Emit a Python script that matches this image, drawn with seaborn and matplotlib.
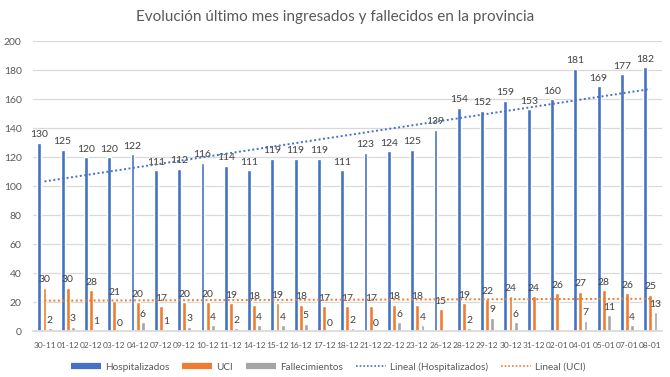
import numpy as np
import pandas as pd
import matplotlib
matplotlib.use("Agg")
import matplotlib.pyplot as plt
import seaborn as sns
from matplotlib.lines import Line2D

fechas = ["30-11", "01-12", "02-12", "03-12", "04-12", "07-12", "09-12", "10-12", "11-12",
          "14-12", "15-12", "16-12", "17-12", "18-12", "21-12", "22-12", "23-12", "26-12",
          "28-12", "29-12", "30-12", "31-12", "02-01", "04-01", "05-01", "07-01", "08-01"]
hospitalizados = [130, 125, 120, 120, 122, 111, 112, 116, 114, 111, 119, 119, 119, 111,
                  123, 124, 125, 139, 154, 152, 159, 153, 160, 181, 169, 177, 182]
uci = [30, 30, 28, 21, 20, 17, 20, 20, 19, 18, 19, 18, 17, 17,
       17, 18, 18, 15, 19, 22, 24, 24, 26, 27, 28, 26, 25]
fallecimientos = [2, 3, 1, 0, 6, 1, 3, 4, 2, 4, 4, 5, 0, 2,
                  0, 6, 4, np.nan, 2, 9, 6, np.nan, np.nan, 7, 11, 4, 13]
series = ["Hospitalizados", "UCI", "Fallecimientos"]
colores = {"Hospitalizados": "#4472C4", "UCI": "#ED7D31", "Fallecimientos": "#A5A5A5"}

df = pd.DataFrame({
    "fecha": fechas * 3,
    "serie": [s for s in series for _ in fechas],
    "valor": hospitalizados + uci + fallecimientos,
}).dropna()

sns.set_theme(style="white")
plt.rcParams["font.family"] = ["Lato", "DejaVu Sans"]
txt = "#595959"

fig = plt.figure(figsize=(6.7, 3.77), dpi=100)
ax = fig.add_axes([0.049, 0.122, 0.939, 0.769])

sns.barplot(data=df, x="fecha", y="valor", hue="serie", order=fechas, hue_order=series,
            palette=colores, width=0.66, gap=0.25, errorbar=None, legend=False,
            saturation=1, ax=ax)

for cont in ax.containers:
    ax.bar_label(cont, fmt="%g", padding=2.5, fontsize=7.5, color="#404040")

# linear trend lines
xs = np.arange(len(fechas))
ph = np.polyfit(xs, hospitalizados, 1)
pu = np.polyfit(xs, uci, 1)
ax.plot(xs, np.polyval(ph, xs), color="#4472C4", lw=1.4, ls=(0, (1, 1.3)), zorder=5)
ax.plot(xs, np.polyval(pu, xs), color="#ED7D31", lw=1.4, ls=(0, (1, 1.3)), zorder=5)

ax.set_ylim(0, 200)
ax.set_xlim(-0.5, len(fechas) - 0.5)
ax.set_yticks(range(0, 201, 20))
ax.yaxis.grid(True, color="#D9D9D9", lw=0.9)
ax.set_axisbelow(True)
for s in ["top", "right", "left"]:
    ax.spines[s].set_visible(False)
ax.spines["bottom"].set_color("#D9D9D9")
ax.set_xlabel("")
ax.set_ylabel("")
ax.tick_params(axis="y", labelsize=7.5, colors=txt, length=0, pad=8)
ax.tick_params(axis="x", labelsize=6.0, colors=txt, length=0, pad=8)

fig.text(0.5, 0.955, "Evolución último mes ingresados y fallecidos en la provincia",
         ha="center", va="center", fontsize=11, color=txt)

handles = [
    Line2D([], [], color="#4472C4", lw=4.5, solid_capstyle="butt"),
    Line2D([], [], color="#ED7D31", lw=4.5, solid_capstyle="butt"),
    Line2D([], [], color="#A5A5A5", lw=4.5, solid_capstyle="butt"),
    Line2D([], [], color="#4472C4", lw=1.2, ls=(0, (1, 1.2))),
    Line2D([], [], color="#ED7D31", lw=1.2, ls=(0, (1, 1.2))),
]
labels = ["Hospitalizados", "UCI", "Fallecimientos", "Lineal (Hospitalizados)", "Lineal (UCI)"]
leg = fig.legend(handles, labels, loc="center", bbox_to_anchor=(0.49, 0.027), ncol=5,
                 frameon=False, fontsize=7.2, handlelength=3.0, columnspacing=1.3,
                 handletextpad=0.4)
for t in leg.get_texts():
    t.set_color(txt)

fig.savefig("out.png", dpi=100)
